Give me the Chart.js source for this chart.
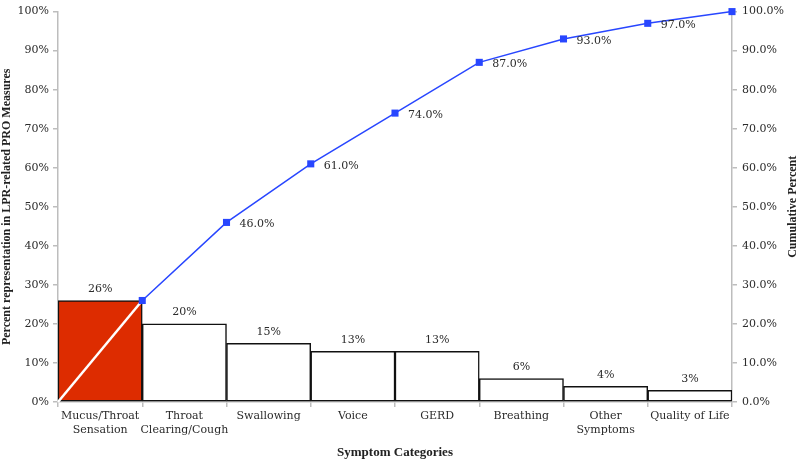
<!DOCTYPE html>
<html>
<head>
<meta charset="utf-8">
<script src="https://cdn.jsdelivr.net/npm/chart.js@4"></script>
<style>
  body { margin: 0; background: #fff; }
  #wrap { width: 800px; height: 460px; }
</style>
</head>
<body>
<div id="wrap"><canvas id="pareto" width="800" height="460"></canvas></div>
<script>
'use strict';

const categories = [
    ['Mucus/Throat', 'Sensation'],
    ['Throat', 'Clearing/Cough'],
    'Swallowing',
    'Voice',
    'GERD',
    'Breathing',
    ['Other', 'Symptoms'],
    'Quality of Life'
];
const shares = [26, 20, 15, 13, 13, 6, 4, 3];
// cumulative percent at each category boundary, starting from the origin
const cumulative = [0, 26, 46, 61, 74, 87, 93, 97, 100];
const percentTicks = [0, 10, 20, 30, 40, 50, 60, 70, 80, 90, 100];

const RED = '#dd2c00';
const BLUE = '#2846ff';
const AXIS = '#bdbdbd';
const TEXT = '#2b2b2b';
const tickFont = { family: 'DejaVu Serif', size: 11 };

const labelPlugin = {
    id: 'labels',
    afterDatasetsDraw(chart) {
        const ctx = chart.ctx;
        ctx.save();
        ctx.font = '11px "DejaVu Serif"';
        ctx.fillStyle = TEXT;

        const bars = chart.getDatasetMeta(1).data;
        ctx.textAlign = 'center';
        ctx.textBaseline = 'bottom';
        bars.forEach((bar, i) => {
            ctx.fillText(shares[i] + '%', bar.x, bar.y - 6);
        });

        const pts = chart.getDatasetMeta(0).data;
        ctx.textAlign = 'left';
        ctx.textBaseline = 'middle';
        pts.forEach((pt, i) => {
            if (i < 2 || i === pts.length - 1) return;
            ctx.fillText(cumulative[i].toFixed(1) + '%', pt.x + 13, pt.y + 2);
        });

        // right axis title, reading bottom-to-top like the left one
        ctx.font = 'bold 12px "Liberation Serif"';
        ctx.fillStyle = '#222';
        ctx.translate(793, (chart.chartArea.top + chart.chartArea.bottom) / 2);
        ctx.rotate(-Math.PI / 2);
        ctx.textAlign = 'center';
        ctx.fillText('Cumulative Percent', 0, 0);
        ctx.restore();
    }
};

const chart = document.getElementById('pareto');
new Chart(chart, {
    type: 'bar',
    data: {
        labels: categories,
        datasets: [{
            type: 'line',
            data: cumulative.map((v, i) => ({ x: i, y: v })),
            xAxisID: 'x2',
            yAxisID: 'y2',
            order: 0,
            clip: false,
            borderColor: BLUE,
            borderWidth: 1.5,
            pointStyle: 'rect',
            pointRadius: (c) => c.dataIndex === 0 ? 0 : 5,
            pointBackgroundColor: BLUE,
            pointBorderColor: BLUE,
            pointBorderWidth: 0,
            segment: {
                borderColor: (c) => c.p0DataIndex === 0 ? '#ffffff' : BLUE,
                borderWidth: (c) => c.p0DataIndex === 0 ? 2.5 : 1.5
            }
        }, {
            type: 'bar',
            data: shares,
            xAxisID: 'x',
            yAxisID: 'y',
            order: 1,
            grouped: false,
            backgroundColor: shares.map((v, i) => i === 0 ? RED : '#ffffff'),
            borderColor: '#111',
            borderWidth: 1.5,
            borderSkipped: false,
            barPercentage: 1,
            categoryPercentage: 1
        }]
    },
    options: {
        responsive: false,
        animation: false,
        layout: { padding: { top: 6 } },
        plugins: {
            legend: { display: false },
            tooltip: { enabled: false }
        },
        scales: {
            x: {
                type: 'category',
                offset: true,
                grid: { offset: true, drawOnChartArea: false, tickLength: 5, color: AXIS, lineWidth: 1.5 },
                border: { color: AXIS, width: 1.5 },
                ticks: { color: TEXT, font: tickFont, maxRotation: 0, autoSkip: false, padding: 3 },
                title: {
                    display: true,
                    text: 'Symptom Categories',
                    color: '#222',
                    font: { family: 'Liberation Serif', size: 13, weight: 'bold' },
                    padding: { top: 4, bottom: 0 }
                },
                afterFit: (s) => { s.height = 58; }
            },
            x2: { type: 'linear', min: 0, max: 8, offset: false, display: false },
            y: {
                min: 0,
                max: 100,
                afterBuildTicks: (s) => { s.ticks = percentTicks.map(v => ({ value: v })); },
                grid: { drawOnChartArea: false, tickLength: 5, color: AXIS, lineWidth: 1.5 },
                border: { color: AXIS, width: 1.5 },
                ticks: { color: TEXT, font: tickFont, padding: 4, callback: (v) => v + '%' },
                title: {
                    display: true,
                    text: 'Percent representation in LPR-related PRO Measures',
                    color: '#222',
                    font: { family: 'Liberation Serif', size: 12, weight: 'bold' },
                    padding: 0
                },
                afterFit: (s) => { s.width = 58; }
            },
            y2: {
                position: 'right',
                min: 0,
                max: 100,
                afterBuildTicks: (s) => { s.ticks = percentTicks.map(v => ({ value: v })); },
                grid: { drawOnChartArea: false, tickLength: 5, color: AXIS, lineWidth: 1.5 },
                border: { color: AXIS, width: 1.5 },
                ticks: { color: TEXT, font: tickFont, padding: 5, callback: (v) => v.toFixed(1) + '%' },
                afterFit: (s) => { s.width = 68; }
            }
        }
    },
    plugins: [labelPlugin]
});
</script>
</body>
</html>
